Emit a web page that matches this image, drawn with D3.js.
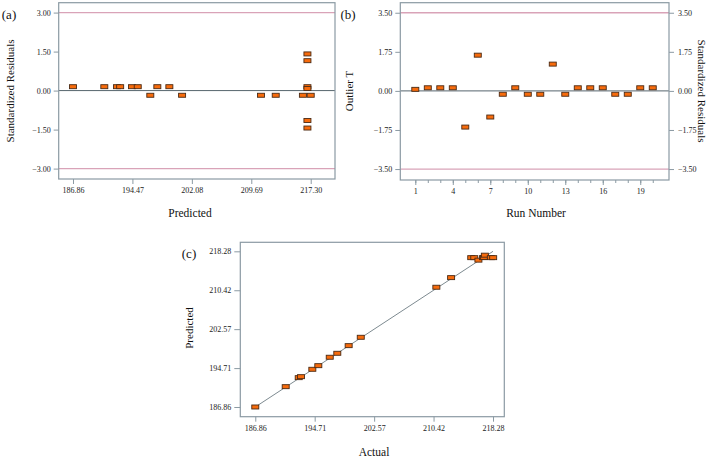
<!DOCTYPE html>
<html><head><meta charset="utf-8">
<script src="https://cdn.jsdelivr.net/npm/d3@7"></script>
<style>
html,body{margin:0;padding:0;background:#fff;}
svg{display:block;}
svg text{font-family:"Liberation Serif","Times New Roman",Times,serif !important;}
</style></head>
<body>
<svg id="chart" width="709" height="459"></svg>
<script>
// ---- Data ----
// Panel (a): Predicted vs standardized residuals
const predA = [186.86,190.87,192.5,192.9,194.42,195.15,196.76,197.66,199.2,200.83,210.94,212.82,216.3,217.3,216.88,216.88,216.88,216.88,216.88,216.88];
const residA = [0.15,0.15,0.15,0.15,0.15,0.15,-0.18,0.15,0.15,-0.18,-0.18,-0.18,-0.18,-0.18,1.41,1.15,0.15,0.08,-1.15,-1.44];
const ticksAx = [186.86,194.47,202.08,209.69,217.30];
const ticksAy = [-3.00,-1.50,0.00,1.50,3.00];
const limitsA = [-3.00,3.00];

// Panel (b): run number vs outlier T
const runB = [1,2,3,4,5,6,7,8,9,10,11,12,13,14,15,16,17,18,19,20];
const outlierB = [0.07,0.14,0.14,0.14,-1.62,1.6,-1.17,-0.15,0.14,-0.15,-0.15,1.2,-0.15,0.14,0.14,0.14,-0.15,-0.15,0.14,0.14];
const ticksBx = [1,4,7,10,13,16,19];
const ticksBy = [-3.50,-1.75,0.00,1.75,3.50];
const limitsB = [-3.50,3.50];

// Panel (c): actual vs predicted
const actualC = [186.86,190.88,192.6,192.9,194.4,195.19,196.7,197.7,199.2,200.8,210.79,212.74,215.4,215.8,216.35,216.96,217.1,217.2,217.99,218.3];
const predC = [186.86,190.96,192.78,192.98,194.47,195.2,196.9,197.7,199.24,200.93,211.03,212.97,217.0,217.0,216.5,217.0,217.05,217.5,217.0,217.0];
const ticksC = [186.86,194.71,202.57,210.42,218.28];
const diagC = [186.86,218.28];

// ---- Styles ----
const FONT = '"Liberation Serif","Times New Roman",Times,serif';
const frameCol = "#8b9aa3";
const zeroCol = "#56656d";
const limitCol = "#d9a3b8";
const fillCol = "#f76b0c";
const edgeCol = "#4a2a14";
const fmt2 = d3.format(".2f");

const svg = d3.select("#chart");

function styleAxis(g){
  g.attr("font-family",FONT).attr("font-size",8);
  g.select(".domain").remove();
  g.selectAll(".tick line").attr("stroke", frameCol);
  g.selectAll(".tick text").attr("fill","#222").attr("font-family",FONT).attr("font-size",8);
}
function frame(x0,y0,x1,y1){
  svg.append("rect").attr("x",x0).attr("y",y0).attr("width",x1-x0).attr("height",y1-y0)
    .attr("fill","none").attr("stroke",frameCol).attr("stroke-width",1.2);
}
function markers(g, xs, ys, xScale, yScale){
  g.selectAll("rect.m").data(xs.map((d,i)=>[d,ys[i]])).enter().append("rect")
    .attr("class","m")
    .attr("x",d=>xScale(d[0])-3.5).attr("y",d=>yScale(d[1])-2)
    .attr("width",7).attr("height",4)
    .attr("fill",fillCol).attr("stroke",edgeCol).attr("stroke-width",0.9);
}
function text(x,y,s,size,opts={}){
  const t = svg.append("text").attr("x",x).attr("y",y).text(s)
    .attr("font-family",FONT).attr("font-size",size).attr("fill","#111")
    .attr("text-anchor",opts.anchor||"middle");
  if(opts.rotate) t.attr("transform",`rotate(${opts.rotate},${x},${y})`);
  return t;
}

// ---- Panel (a) ----
{
  const L=58.7,R=335,T=2.7,B=179;
  const x = d3.scaleLinear().domain([185.03,220.41]).range([L,R]);
  const y = d3.scaleLinear().domain([-3.4,3.38]).range([B,T]);
  const g = svg.append("g");
  g.selectAll("line.lim").data(limitsA).enter().append("line")
    .attr("x1",L).attr("x2",R).attr("y1",d=>y(d)).attr("y2",d=>y(d))
    .attr("stroke",limitCol).attr("stroke-width",1.3);
  g.append("line").attr("x1",L).attr("x2",R).attr("y1",y(0)).attr("y2",y(0))
    .attr("stroke",zeroCol).attr("stroke-width",1);
  frame(L,T,R,B);
  svg.append("g").attr("transform",`translate(0,${B})`)
    .call(d3.axisBottom(x).tickValues(ticksAx).tickFormat(fmt2).tickSize(5).tickPadding(3)).call(styleAxis);
  svg.append("g").attr("transform",`translate(${L},0)`)
    .call(d3.axisLeft(y).tickValues(ticksAy).tickFormat(fmt2).tickSize(5).tickPadding(3)).call(styleAxis);
  markers(svg.append("g"), predA, residA, x, y);
  text(190,217,"Predicted",11.5);
  text(14,91,"Standardized Residuals",11,{rotate:-90});
  text(9,19,"(a)",13);
}

// ---- Panel (b) ----
{
  const L=400.3,R=669,T=2.7,B=180;
  const x = d3.scaleLinear().domain([-0.2,21.3]).range([L,R]);
  const y = d3.scaleLinear().domain([-3.99,3.95]).range([B,T]);
  const g = svg.append("g");
  g.selectAll("line.lim").data(limitsB).enter().append("line")
    .attr("x1",L).attr("x2",R).attr("y1",d=>y(d)).attr("y2",d=>y(d))
    .attr("stroke",limitCol).attr("stroke-width",1.3);
  g.append("line").attr("x1",L).attr("x2",R).attr("y1",y(0)).attr("y2",y(0))
    .attr("stroke",zeroCol).attr("stroke-width",1);
  frame(L,T,R,B);
  svg.append("g").attr("transform",`translate(0,${B})`)
    .call(d3.axisBottom(x).tickValues(runB).tickFormat("").tickSize(3)).call(styleAxis);
  svg.append("g").attr("transform",`translate(0,${B})`)
    .call(d3.axisBottom(x).tickValues(ticksBx).tickFormat(d3.format("d")).tickSize(5).tickPadding(3)).call(styleAxis);
  svg.append("g").attr("transform",`translate(${L},0)`)
    .call(d3.axisLeft(y).tickValues(ticksBy).tickFormat(fmt2).tickSize(5).tickPadding(3)).call(styleAxis);
  svg.append("g").attr("transform",`translate(${R},0)`)
    .call(d3.axisRight(y).tickValues(ticksBy).tickFormat(fmt2).tickSize(5).tickPadding(4)).call(styleAxis);
  markers(svg.append("g"), runB, outlierB, x, y);
  text(536,217,"Run Number",11.5);
  text(353,91,"Outlier T",11,{rotate:-90});
  text(698,91,"Standardized Residuals",11,{rotate:90});
  text(348,19,"(b)",13);
}

// ---- Panel (c) ----
{
  const L=240.3,R=504.3,T=242.3,B=416.7;
  const x = d3.scaleLinear().domain([184.88,219.77]).range([L,R]);
  const y = d3.scaleLinear().domain([184.9,220.1]).range([B,T]);
  frame(L,T,R,B);
  svg.append("line").attr("x1",x(diagC[0])).attr("y1",y(diagC[0]))
    .attr("x2",x(diagC[1])).attr("y2",y(diagC[1]))
    .attr("stroke","#7d8a90").attr("stroke-width",1);
  svg.append("g").attr("transform",`translate(0,${B})`)
    .call(d3.axisBottom(x).tickValues(ticksC).tickFormat(fmt2).tickSize(5).tickPadding(4)).call(styleAxis);
  svg.append("g").attr("transform",`translate(${L},0)`)
    .call(d3.axisLeft(y).tickValues(ticksC).tickFormat(fmt2).tickSize(6).tickPadding(3)).call(styleAxis);
  markers(svg.append("g"), actualC, predC, x, y);
  text(374,456,"Actual",11.5);
  text(193,328,"Predicted",11,{rotate:-90});
  text(189,258,"(c)",13);
}
</script>
</body></html>
